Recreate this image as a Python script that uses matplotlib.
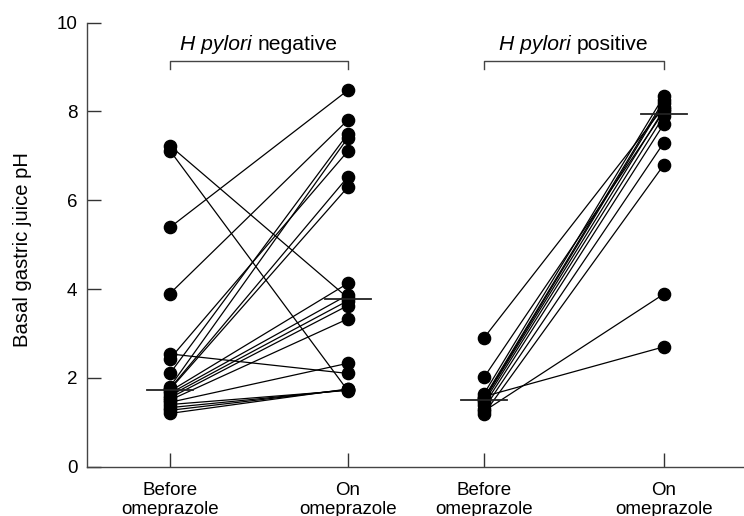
import matplotlib
matplotlib.use("Agg")
import matplotlib.pyplot as plt
import numpy as np

plt.rcParams['font.family'] = ['Liberation Sans', 'DejaVu Sans']

# H pylori negative: paired values (before -> on omeprazole)
neg_before = [7.23, 7.12, 5.39, 3.90, 2.54, 2.43, 2.10, 1.80, 1.76, 1.74,
              1.70, 1.65, 1.60, 1.55, 1.50, 1.45, 1.40, 1.33, 1.27, 1.20]
neg_on = [3.80, 1.71, 8.48, 7.81, 2.10, 7.11, 7.50, 7.41, 6.53, 6.30,
          4.13, 3.87, 3.74, 3.63, 3.33, 2.33, 1.72, 1.73, 1.74, 1.75]

# H pylori positive
pos_before = [2.90, 2.01, 1.64, 1.58, 1.55, 1.52, 1.50, 1.45, 1.38, 1.30, 1.25, 1.19]
pos_on = [8.10, 8.00, 8.35, 2.70, 8.25, 8.20, 8.05, 7.90, 7.72, 7.30, 3.89, 6.80]

group_italic = ["H pylori", "H pylori"]
group_roman = ["negative", "positive"]
tick_labels = ["Before\nomeprazole", "On\nomeprazole", "Before\nomeprazole", "On\nomeprazole"]
yticks = [0, 2, 4, 6, 8, 10]

# layout
xpos = [1.0, 2.0, 2.764, 3.775]

fig = plt.figure(figsize=(7.44, 5.16), dpi=100)
ax = fig.add_axes([87/744, (516-466.7)/516, 1-87/744, (466.7-22.7)/516])
ax.set_xlim(0.534, 4.225)
ax.set_ylim(0, 10)

def draw_group(b, o, x0, x1):
    for vb, vo in zip(b, o):
        ax.plot([x0, x1], [vb, vo], color='black', lw=0.9, zorder=2, solid_capstyle='round')
    ax.plot([x0]*len(b), b, 'o', color='black', ms=8.8, zorder=3)
    ax.plot([x1]*len(o), o, 'o', color='black', ms=8.8, zorder=3)
    hw = 0.13
    for x, v in ((x0, b), (x1, o)):
        m = np.median(v)
        ax.plot([x-hw, x+hw], [m, m], color='#222222', lw=1.3, zorder=4)

draw_group(neg_before, neg_on, xpos[0], xpos[1])
draw_group(pos_before, pos_on, xpos[2], xpos[3])

fig.canvas.draw()
r = fig.canvas.get_renderer()
inv = ax.transData.inverted()
# brackets + group titles
for (xa, xb), it, rm in zip(((xpos[0], xpos[1]), (xpos[2], xpos[3])), group_italic, group_roman):
    ax.plot([xa, xa, xb, xb], [8.96, 9.14, 9.14, 8.96], color='#444444', lw=1.0,
            clip_on=False)
    ti = ax.text(0, 9.52, it + " ", fontsize=15.2, style='italic', va='center', ha='left')
    tn = ax.text(0, 9.52, rm, fontsize=15.2, va='center', ha='left')
    wi = ti.get_window_extent(r).width
    wn = tn.get_window_extent(r).width
    xc = ax.transData.transform(((xa+xb)/2, 9.5))[0]
    left = xc - (wi + wn)/2
    ti.set_x(inv.transform((left, 0))[0])
    tn.set_x(inv.transform((left + wi, 0))[0])

ax.set_xticks(xpos)
ax.set_xticklabels(tick_labels, fontsize=13.5, linespacing=1.12)
ax.set_yticks(yticks)
ax.set_yticklabels([str(v) for v in yticks], fontsize=13.5)
ax.tick_params(axis='both', direction='in', length=10, width=1.0, color='#333333')
ax.tick_params(axis='y', pad=7)
ax.tick_params(axis='x', pad=11)
for s in ('top', 'right'):
    ax.spines[s].set_visible(False)
for s in ('left', 'bottom'):
    ax.spines[s].set_color('#444444')
    ax.spines[s].set_linewidth(1.0)
ax.set_ylabel("Basal gastric juice pH", fontsize=14.6)
ax.yaxis.set_label_coords(-0.084, 0.49)

fig.savefig("out.png", dpi=100)
